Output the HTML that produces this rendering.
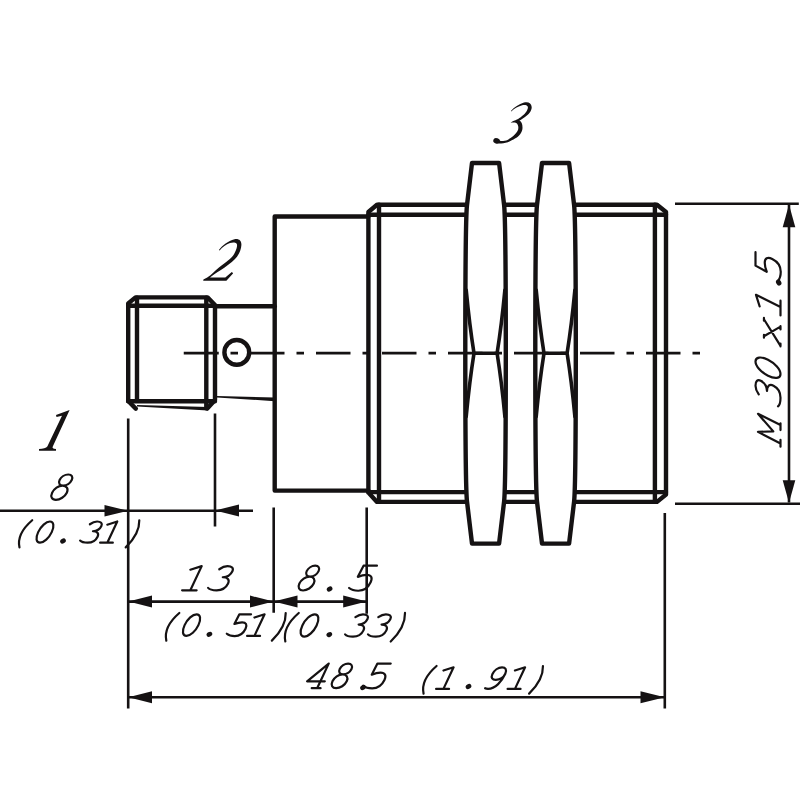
<!DOCTYPE html>
<html><head><meta charset="utf-8">
<style>
html,body{margin:0;padding:0;background:#fff;width:800px;height:800px;overflow:hidden}
svg{display:block}
.o{fill:none;stroke:#151213;stroke-width:4.4;stroke-linejoin:round;stroke-linecap:round}
.t{fill:none;stroke:#151213;stroke-width:2.6}
.c{fill:none;stroke:#151213;stroke-width:2.7}
.g path{fill:none;stroke:#151213;stroke-width:2.2;stroke-linecap:round;stroke-linejoin:round;vector-effect:non-scaling-stroke}
.g ellipse{fill:#151213}
.L{fill:#151213}
</style></head>
<body>
<svg width="800" height="800" viewBox="0 0 800 800">
<!-- connector -->
<path class="o" d="M128.2 401V303.5L135.5 297.4H207.5L215 305V400L207.5 408.3"/>
<path class="o" d="M128.2 401L135.8 408.6"/>
<path fill="#151213" d="M137 404.9L208 406.9V410.4L137 406.6Z"/>
<path class="o" d="M137 297.8V401.2M206.3 297.8V408.3M128.2 305.7H215M128.2 401.2H215"/>
<!-- neck -->
<path class="o" d="M215 306.3H274.7"/>
<path fill="#151213" d="M217 396.1L274.7 397.5V401.2L217 397.5Z"/>
<circle class="o" cx="236.8" cy="352.4" r="12.4"/>
<!-- body -->
<path class="o" d="M368.4 216.5H274.7V490.6H368.4"/>
<!-- threaded -->
<path class="o" d="M368.4 492.5V212L377 204.7H657L666 212V494.5L657 501.9H377L368.4 492.5"/>
<path class="o" d="M379 204.7V501.9M654.9 204.7V501.9M368.4 214.7H666M368.4 492.1H666"/>
<!-- nuts -->
<g id="nut">
<path class="o" fill="#fff" style="fill:#fff" d="M472 163H499.1L504.1 205C505.3 215 505.8 240 505.8 353.3C505.8 466.6 505.3 491.6 504.1 501.6L499.1 543.6H472L467 501.6C465.8 491.6 465.3 466.6 465.3 353.3C465.3 240 465.8 215 467 205Z"/>
<path class="o" style="stroke-width:3.6" d="M466.2 290Q469.5 325 474 353.3Q469.5 381.6 466.2 416.6M504.9 290Q501.6 325 497.1 353.3Q501.6 381.6 504.9 416.6M474 353.3H497.1"/>
</g>
<use href="#nut" transform="translate(70,0)"/>

<!-- center line -->
<path class="c" d="M183.75 353.2H218.75M230.5 353.2H238M250 353.2H284.5M296.5 353.2H304M316 353.2H350.5M362.5 353.2H370M382 353.2H416.5M428.5 353.2H436M448 353.2H482.5M494.5 353.2H502M514 353.2H548.5M560.5 353.2H568M580 353.2H614.5M626.5 353.2H634M646 353.2H680.5M692.5 353.2H700"/>

<!-- extension lines -->
<path class="t" d="M128.2 418.5V708.5M215 413.5V526.5M273.7 507.5V612.8M366.7 507.5V613.7M664.8 513V708.5M675 203.8H798.8M675 503.8H800"/>
<!-- dimension lines -->
<path class="t" d="M0 510.8H253M128.2 601.6H366.7M128.2 697.2H664.8M789 205V502.5"/>
<!-- arrows -->
<g fill="#151213">
<path d="M128.2 510.8L104.5 505L104.5 516.6Z"/>
<path d="M215 510.5L239 504.5L239 516.5Z"/>
<path d="M128.4 601.6L152 595.6L152 607.6Z"/>
<path d="M273.5 601.6L250 595.6L250 607.6Z"/>
<path d="M273.7 601.6L297.5 595.6L297.5 607.6Z"/>
<path d="M366.7 601.6L343.2 595.6L343.2 607.6Z"/>
<path d="M128.4 697.2L152 691.2L152 703.2Z"/>
<path d="M664.8 697.2L640.5 691.2L640.5 703.2Z"/>
<path d="M789 204.5L782.7 227.3H795.3Z"/>
<path d="M789 502.7L782.7 480.2H795.3Z"/>
</g>

<!-- labels -->
<path class="L" d="M69.6 410 L56 415 L56.5 417 L62 415.8 L47.3 446.5 C46.3 448.3 43 448.8 39 449 L39 450.8 L56 450.8 L56 449 C53 448.8 52 448 52.8 446.5 Z"/>
<path class="L" d="M218.9 249.9 C222.5 245 228 241 234.5 239.2 C239 238.4 241.6 240.8 241.4 245 C241.2 250 238.5 255.5 235 259 C231 263 226 266.8 220.1 270.5 C216 273 213 275.3 210 277.6 L225.3 277.6 L231.8 272 L233.2 273.2 L226.4 280.8 L203.2 280.8 L203.4 279.4 C209 277 212.5 273.5 215.5 270.5 C219 267.5 226 262 229.9 259 C232 257 234 254.5 234.5 253.2 C236.8 249 237.8 245 236.5 243.5 C235 242 232.5 242.2 230 243 C226 244.5 222.5 247 219.6 250.4 Z"/>
<path class="L" d="M510.9 111.1 C514 107.5 519 104 524 102.6 C528 101.5 531.5 103 531.7 107 C531.8 111 528.5 114.5 525 117 C523 118.6 521 119.8 519.4 120.6 C521.5 121.5 522.6 124.5 522.5 128 C522.3 132.5 519 136.5 515 138.6 C511.5 140.8 506 143.6 501.25 143.6 C498.5 143.6 496.5 142.8 495 141.75 L497.5 140.6 C501 141.5 505 141 507.5 139.9 C511 138.4 515.5 134.5 517.5 131.1 C519 128.5 518.5 124.5 516.25 123 C514.5 122.2 512.5 122.5 510.6 122.7 C513 121.2 515 120.5 516.9 119.6 C520 118 524.5 114.5 526.25 111.75 C527.5 110 528.5 107.5 527.5 106.2 C526.5 104.8 524 104.8 521.5 105.5 C518 106.6 514 108.5 511.2 111.4 Z"/>
<ellipse class="L" cx="496.6" cy="140.9" rx="3.4" ry="2.7" transform="rotate(20 496.6 140.9)"/>

<g class="g">
<path d="M30 -100 C16 -100 6 -90 6 -78 C6 -66 16 -56 30 -56 C44 -56 54 -66 54 -78 C54 -90 44 -100 30 -100 Z M28 -56 C12 -56 0 -44 0 -28 C0 -12 12 0 28 0 C44 0 58 -12 58 -28 C58 -44 44 -56 28 -56 Z" transform="matrix(0.2530 0 -0.1189 0.2530 48.81 499.80)"/>
<path d="M28 -106 Q-16 -42 28 22" transform="matrix(0.2120 0 -0.0996 0.2120 15.72 542.70)"/>
<path d="M32 -100 C50 -100 64 -78 64 -50 C64 -22 50 0 32 0 C14 0 0 -22 0 -50 C0 -78 14 -100 32 -100 Z" transform="matrix(0.2120 0 -0.0996 0.2120 33.19 542.70)"/>
<path d="M12 -87 C20 -96 30 -100 40 -100 C58 -100 70 -92 70 -79 C70 -64 58 -55 42 -54 C62 -54 76 -44 76 -28 C76 -10 62 0 42 0 C24 0 10 -4 2 -10" transform="matrix(0.2120 0 -0.0996 0.2120 78.68 542.70)"/>
<path d="M0 -85 L40 -100 V0 M6 0 H66" transform="matrix(0.2120 0 -0.0996 0.2120 98.83 542.70)"/>
<path d="M2 -106 Q34 -42 -2 22" transform="matrix(0.2120 0 -0.0996 0.2120 128.32 542.70)"/>
<path d="M0 -85 L40 -100 V0 M6 0 H66" transform="matrix(0.2420 0 -0.1137 0.2420 180.65 590.30)"/>
<path d="M12 -87 C20 -96 30 -100 40 -100 C58 -100 70 -92 70 -79 C70 -64 58 -55 42 -54 C62 -54 76 -44 76 -28 C76 -10 62 0 42 0 C24 0 10 -4 2 -10" transform="matrix(0.2420 0 -0.1137 0.2420 206.48 590.30)"/>
<path d="M28 -106 Q-16 -42 28 22" transform="matrix(0.2160 0 -0.1015 0.2160 162.51 635.90)"/>
<path d="M32 -100 C50 -100 64 -78 64 -50 C64 -22 50 0 32 0 C14 0 0 -22 0 -50 C0 -78 14 -100 32 -100 Z" transform="matrix(0.2160 0 -0.1015 0.2160 179.53 635.90)"/>
<path d="M72 -100 H18 L16 -55 C28 -61 38 -63 48 -63 C66 -63 78 -52 78 -33 C78 -12 64 1 44 1 C28 1 12 -4 2 -10" transform="matrix(0.2160 0 -0.1015 0.2160 225.35 635.90)"/>
<path d="M0 -85 L40 -100 V0 M6 0 H66" transform="matrix(0.2160 0 -0.1015 0.2160 245.80 635.90)"/>
<path d="M2 -106 Q34 -42 -2 22" transform="matrix(0.2160 0 -0.1015 0.2160 274.52 635.90)"/>
<path d="M30 -100 C16 -100 6 -90 6 -78 C6 -66 16 -56 30 -56 C44 -56 54 -66 54 -78 C54 -90 44 -100 30 -100 Z M28 -56 C12 -56 0 -44 0 -28 C0 -12 12 0 28 0 C44 0 58 -12 58 -28 C58 -44 44 -56 28 -56 Z" transform="matrix(0.2480 0 -0.1166 0.2480 296.11 590.50)"/>
<path d="M72 -100 H18 L16 -55 C28 -61 38 -63 48 -63 C66 -63 78 -52 78 -33 C78 -12 64 1 44 1 C28 1 12 -4 2 -10" transform="matrix(0.2480 0 -0.1166 0.2480 347.44 590.50)"/>
<path d="M28 -106 Q-16 -42 28 22" transform="matrix(0.2230 0 -0.1048 0.2230 281.40 636.60)"/>
<path d="M32 -100 C50 -100 64 -78 64 -50 C64 -22 50 0 32 0 C14 0 0 -22 0 -50 C0 -78 14 -100 32 -100 Z" transform="matrix(0.2230 0 -0.1048 0.2230 297.12 636.60)"/>
<path d="M12 -87 C20 -96 30 -100 40 -100 C58 -100 70 -92 70 -79 C70 -64 58 -55 42 -54 C62 -54 76 -44 76 -28 C76 -10 62 0 42 0 C24 0 10 -4 2 -10" transform="matrix(0.2230 0 -0.1048 0.2230 343.61 636.60)"/>
<path d="M12 -87 C20 -96 30 -100 40 -100 C58 -100 70 -92 70 -79 C70 -64 58 -55 42 -54 C62 -54 76 -44 76 -28 C76 -10 62 0 42 0 C24 0 10 -4 2 -10" transform="matrix(0.2230 0 -0.1048 0.2230 366.51 636.60)"/>
<path d="M2 -106 Q34 -42 -2 22" transform="matrix(0.2230 0 -0.1048 0.2230 393.45 636.60)"/>
<path d="M54 -100 L0 -28 H72 M54 -100 V0 M32 0 H68" transform="matrix(0.2460 0 -0.1156 0.2460 303.86 688.20)"/>
<path d="M30 -100 C16 -100 6 -90 6 -78 C6 -66 16 -56 30 -56 C44 -56 54 -66 54 -78 C54 -90 44 -100 30 -100 Z M28 -56 C12 -56 0 -44 0 -28 C0 -12 12 0 28 0 C44 0 58 -12 58 -28 C58 -44 44 -56 28 -56 Z" transform="matrix(0.2460 0 -0.1156 0.2460 329.23 688.20)"/>
<path d="M72 -100 H18 L16 -55 C28 -61 38 -63 48 -63 C66 -63 78 -52 78 -33 C78 -12 64 1 44 1 C28 1 12 -4 2 -10" transform="matrix(0.2460 0 -0.1156 0.2460 361.45 688.20)"/>
<path d="M28 -106 Q-16 -42 28 22" transform="matrix(0.2160 0 -0.1015 0.2160 419.76 688.90)"/>
<path d="M0 -85 L40 -100 V0 M6 0 H66" transform="matrix(0.2160 0 -0.1015 0.2160 434.80 688.90)"/>
<path d="M63 -70 C63 -88 50 -100 34 -100 C16 -100 4 -86 4 -68 C4 -52 16 -42 32 -42 C48 -42 63 -52 63 -70 C63 -36 50 0 16 0 C10 0 5 -1 1 -3" transform="matrix(0.2160 0 -0.1015 0.2160 484.58 688.90)"/>
<path d="M0 -85 L40 -100 V0 M6 0 H66" transform="matrix(0.2160 0 -0.1015 0.2160 506.30 688.90)"/>
<path d="M2 -106 Q34 -42 -2 22" transform="matrix(0.2160 0 -0.1015 0.2160 531.77 688.90)"/>
<ellipse cx="63.00" cy="541.00" rx="2.99" ry="2.34" transform="rotate(-30 63.00 541.00)"/>
<ellipse cx="209.40" cy="634.30" rx="2.99" ry="2.34" transform="rotate(-30 209.40 634.30)"/>
<ellipse cx="329.60" cy="589.00" rx="2.99" ry="2.34" transform="rotate(-30 329.60 589.00)"/>
<ellipse cx="329.30" cy="634.60" rx="2.99" ry="2.34" transform="rotate(-30 329.30 634.60)"/>
<ellipse cx="363.00" cy="687.50" rx="2.99" ry="2.34" transform="rotate(-30 363.00 687.50)"/>
<ellipse cx="468.50" cy="686.50" rx="2.99" ry="2.34" transform="rotate(-30 468.50 686.50)"/>
</g>
<g class="g" transform="translate(780.5 448) rotate(-90)">
<path d="M16 0 L18 -100 L54 -32 L98 -100 V0 M2 0 H32 M76 0 H106" transform="matrix(0.2250 0 -0.1125 0.2250 0.85 0.00)"/>
<path d="M12 -87 C20 -96 30 -100 40 -100 C58 -100 70 -92 70 -79 C70 -64 58 -55 42 -54 C62 -54 76 -44 76 -28 C76 -10 62 0 42 0 C24 0 10 -4 2 -10" transform="matrix(0.2500 0 -0.1250 0.2500 39.85 0.00)"/>
<path d="M32 -100 C50 -100 64 -78 64 -50 C64 -22 50 0 32 0 C14 0 0 -22 0 -50 C0 -78 14 -100 32 -100 Z" transform="matrix(0.2500 0 -0.1250 0.2500 66.04 0.00)"/>
<path d="M0 0 L80 -72 M6 -72 L84 0 M0 -72 H12 M72 0 H86 M74 -72 H86 M-2 0 H10" transform="matrix(0.2300 0 -0.1150 0.2300 102.06 0.00)"/>
<path d="M0 -85 L40 -100 V0 M6 0 H66" transform="matrix(0.2450 0 -0.1225 0.2450 131.13 0.00)"/>
<path d="M72 -100 H18 L16 -55 C28 -61 38 -63 48 -63 C66 -63 78 -52 78 -33 C78 -12 64 1 44 1 C28 1 12 -4 2 -10" transform="matrix(0.2500 0 -0.1250 0.2500 165.35 0.00)"/>
<ellipse cx="165.50" cy="-1.80" rx="3.22" ry="2.52" transform="rotate(-30 165.50 -1.80)"/>
</g>
</svg>
</body></html>
